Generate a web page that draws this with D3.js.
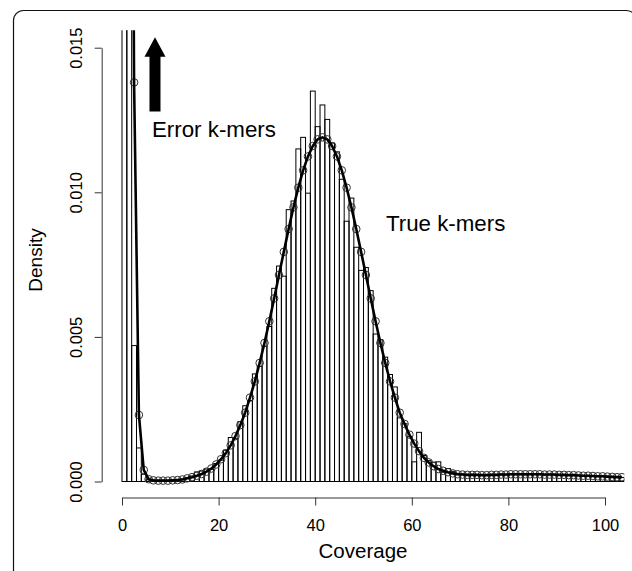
<!DOCTYPE html>
<html>
<head>
<meta charset="utf-8">
<script src="https://cdn.jsdelivr.net/npm/d3@7"></script>
<style>
  html, body { margin: 0; padding: 0; background: #fff; }
  svg { display: block; font-family: "Liberation Sans", Arial, Helvetica, sans-serif; }
</style>
</head>
<body>
<svg id="chart" width="632" height="571"></svg>
<script>
// ---- Data ----
// Histogram bins: left edges of unit-width bins (coverage 0..103)
const binStarts = d3.range(0, 104);
// Histogram densities for each bin
const histValues = [
  0.1000, 0.0300, 0.00470, 0.00116, 0.00025, 0.00006, 0.00004, 0.00003, 0.00004, 0.00003,
  0.00005, 0.00006, 0.00009, 0.00013, 0.00019, 0.00033, 0.00036, 0.00043, 0.00042, 0.00062,
  0.00074, 0.00108, 0.00152, 0.00148, 0.00207, 0.00262, 0.00280, 0.00372, 0.00398, 0.00468,
  0.00536, 0.00668, 0.00745, 0.00710, 0.00940, 0.00970, 0.01150, 0.01190, 0.00997, 0.01350,
  0.01227, 0.01302, 0.01252, 0.01170, 0.01140, 0.01045, 0.00900, 0.00980, 0.00810, 0.00730,
  0.00740, 0.00660, 0.00510, 0.00490, 0.00430, 0.00370, 0.00327, 0.00220, 0.00200, 0.00155,
  0.00068, 0.00170, 0.00090, 0.00072, 0.00067, 0.00068, 0.00032, 0.00045, 0.00035, 0.00028,
  0.00026, 0.00021, 0.00025, 0.00022, 0.00024, 0.00021, 0.00025, 0.00022, 0.00026, 0.00023,
  0.00027, 0.00024, 0.00026, 0.00023, 0.00027, 0.00024, 0.00026, 0.00022, 0.00025, 0.00023,
  0.00024, 0.00021, 0.00023, 0.00021, 0.00022, 0.00019, 0.00021, 0.00018, 0.00019, 0.00017,
  0.00018, 0.00015, 0.00016, 0.00014
];
// Fitted model curve: x positions (bin mid-points) and densities
const curveX = binStarts.map(k => k + 0.5);
const curveValues = [
  0.09000, 0.04500, 0.01380, 0.00230, 0.00040, 0.00008, 0.00004, 0.00003, 0.00003, 0.00003,
  0.00004, 0.00005, 0.00007, 0.00011, 0.00015, 0.00020, 0.00026, 0.00034, 0.00045, 0.00059,
  0.00077, 0.00098, 0.00125, 0.00157, 0.00195, 0.00238, 0.00290, 0.00346, 0.00410, 0.00479,
  0.00554, 0.00633, 0.00714, 0.00794, 0.00873, 0.00948, 0.01016, 0.01076, 0.01124, 0.01160,
  0.01183, 0.01190, 0.01183, 0.01160, 0.01124, 0.01076, 0.01016, 0.00948, 0.00873, 0.00794,
  0.00714, 0.00633, 0.00554, 0.00479, 0.00410, 0.00346, 0.00290, 0.00238, 0.00199, 0.00162,
  0.00131, 0.00105, 0.00082, 0.00066, 0.00053, 0.00043, 0.00037, 0.00032, 0.00028, 0.00025,
  0.00024, 0.00023, 0.00023, 0.00023, 0.00022, 0.00022, 0.00023, 0.00023, 0.00024, 0.00024,
  0.00025, 0.00025, 0.00025, 0.00025, 0.00025, 0.00025, 0.00025, 0.00024, 0.00024, 0.00024,
  0.00023, 0.00023, 0.00022, 0.00022, 0.00021, 0.00020, 0.00020, 0.00019, 0.00018, 0.00018,
  0.00017, 0.00016, 0.00015, 0.00015
];
const xTicks = [0, 20, 40, 60, 80, 100];
const yTicks = [0.000, 0.005, 0.010, 0.015];
const xTitle = "Coverage";
const yTitle = "Density";
const errorLabel = "Error k-mers";
const trueLabel = "True k-mers";

// ---- Layout ----
const svg = d3.select("#chart");
const plot = { left: 102.7, right: 624.3, top: 30.3, bottom: 499 };

const x = d3.scaleLinear().domain([0, 100]).range([122, 605]);
const y = d3.scaleLinear().domain([0, 0.015]).range([481.5, 47.7]);

// outer rounded frame
svg.append("rect")
  .attr("x", 13.5).attr("y", 10.5)
  .attr("width", 623).attr("height", 640)
  .attr("rx", 10).attr("ry", 10)
  .attr("fill", "none").attr("stroke", "#111").attr("stroke-width", 1.2);

svg.append("defs").append("clipPath").attr("id", "plotclip")
  .append("rect")
  .attr("x", plot.left).attr("y", plot.top)
  .attr("width", plot.right - plot.left).attr("height", plot.bottom - plot.top);

const g = svg.append("g").attr("clip-path", "url(#plotclip)");

// histogram bars
g.selectAll("rect.bar")
  .data(binStarts.map((b, i) => ({ b, v: histValues[i] })))
  .join("rect")
  .attr("class", "bar")
  .attr("x", d => x(d.b))
  .attr("y", d => y(d.v))
  .attr("width", d => x(d.b + 1) - x(d.b))
  .attr("height", d => y(0) - y(d.v))
  .attr("fill", "none")
  .attr("stroke", "#000")
  .attr("stroke-width", 1);

// curve points
const pts = curveX.map((cx, i) => ({ cx, v: curveValues[i] }));
g.selectAll("circle.pt")
  .data(pts)
  .join("circle")
  .attr("class", "pt")
  .attr("cx", d => x(d.cx))
  .attr("cy", d => y(d.v))
  .attr("r", 3.8)
  .attr("fill", "none")
  .attr("stroke", "#333")
  .attr("stroke-width", 1);

// curve line
g.append("path")
  .datum(pts)
  .attr("d", d3.line().x(d => x(d.cx)).y(d => y(d.v)))
  .attr("fill", "none")
  .attr("stroke", "#000")
  .attr("stroke-width", 2.6)
  .attr("stroke-linejoin", "round");

// arrow (annotation for error k-mers)
const ax = x(6.83);
const aTip = y(0.01536), aHead = y(0.01469), aBot = y(0.01279);
svg.append("path")
  .attr("d", `M${ax},${aTip} L${ax + 10.5},${aHead} L${ax + 5.5},${aHead} L${ax + 5.5},${aBot} L${ax - 5.5},${aBot} L${ax - 5.5},${aHead} L${ax - 10.5},${aHead} Z`)
  .attr("fill", "#000");

svg.append("text")
  .attr("x", 152).attr("y", 137)
  .attr("font-size", 22.3)
  .text(errorLabel);

svg.append("text")
  .attr("x", 386).attr("y", 231)
  .attr("font-size", 22.3)
  .text(trueLabel);

// axes
const xAxis = svg.append("g")
  .attr("transform", `translate(0,${497.5})`)
  .call(d3.axisBottom(x).tickValues(xTicks).tickFormat(d3.format("d")).tickSize(8).tickSizeOuter(0));
xAxis.selectAll("text").attr("font-size", 16.5).attr("y", 33).attr("dy", 0)
  .attr("font-family", "Liberation Sans, Arial, sans-serif").attr("fill", "#000");

const yAxis = svg.append("g")
  .attr("transform", `translate(${101.7},0)`)
  .call(d3.axisLeft(y).tickValues(yTicks).tickFormat(d3.format(".3f")).tickSize(7).tickSizeOuter(0));
yAxis.selectAll("text")
  .attr("font-size", 16.5)
  .attr("x", null).attr("dy", null)
  .attr("text-anchor", "middle")
  .attr("transform", "translate(-20,0) rotate(-90)")
  .attr("font-family", "Liberation Sans, Arial, sans-serif").attr("fill", "#000");

svg.selectAll(".domain, .tick line").attr("stroke", "#333").attr("stroke-width", 1);

svg.append("text")
  .attr("x", 363).attr("y", 558)
  .attr("text-anchor", "middle")
  .attr("font-size", 20.5)
  .text(xTitle);

svg.append("text")
  .attr("transform", "translate(42,260) rotate(-90)")
  .attr("text-anchor", "middle")
  .attr("font-size", 19)
  .text(yTitle);
</script>
</body>
</html>
